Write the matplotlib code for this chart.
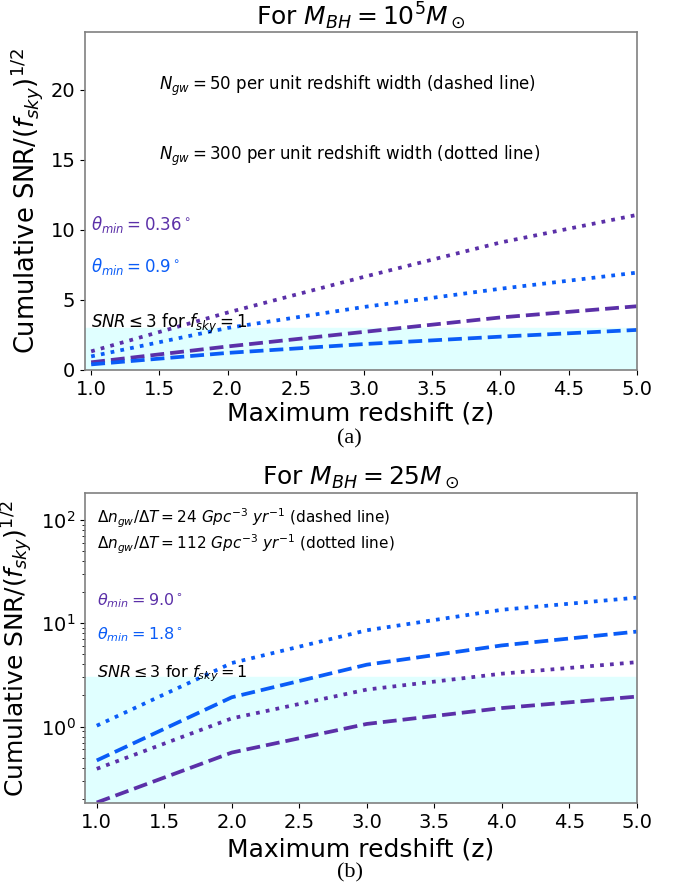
import matplotlib
matplotlib.use("Agg")
import matplotlib.pyplot as plt

# redshift grid
z = [1, 2, 3, 4, 5]

# panel (a): M_BH = 1e5 Msun
a_purple_dashed = [0.55, 1.68, 2.72, 3.75, 4.55]
a_purple_dotted = [1.33, 4.1, 6.65, 9.1, 11.07]
a_blue_dashed = [0.4, 1.22, 1.85, 2.38, 2.86]
a_blue_dotted = [0.97, 3.0, 4.5, 5.8, 6.95]

# panel (b): M_BH = 25 Msun
b_purple_dashed = [0.184, 0.56, 1.06, 1.51, 1.95]
b_purple_dotted = [0.39, 1.2, 2.28, 3.25, 4.2]
b_blue_dashed = [0.47, 1.92, 3.97, 6.1, 8.3]
b_blue_dotted = [1.02, 4.12, 8.55, 13.5, 17.7]

snr_limit = 3

purple = '#5b30a8'
blue = '#0a5cf7'
cyan = '#e0ffff'
ylab = r'Cumulative SNR/$(f_{sky})^{1/2}$'

fig = plt.figure(figsize=(6.78, 8.86), dpi=100)

# ---- panel (a) ----
ax1 = fig.add_axes([0.1254, 0.5824, 0.8137, 0.3818])
ax1.axhspan(0, snr_limit, color=cyan, zorder=0)
ax1.plot(z, a_purple_dotted, ':', color=purple, lw=2.7)
ax1.plot(z, a_blue_dotted, ':', color=blue, lw=2.7)
ax1.plot(z, a_purple_dashed, '--', color=purple, lw=2.7)
ax1.plot(z, a_blue_dashed, '--', color=blue, lw=2.7)
ax1.set_xlim(0.955, 5.0)
ax1.set_ylim(0, 24.15)
ax1.set_yticks([0, 5, 10, 15, 20])
ax1.set_title(r'For $M_{BH} = 10^5 M_\odot$', fontsize=18, pad=4)
ax1.set_xlabel('Maximum redshift (z)', fontsize=18, labelpad=2)
ax1.set_ylabel(ylab, fontsize=18.5)
ax1.text(1.5, 20, r'$N_{gw} = 50$ per unit redshift width (dashed line)', fontsize=12)
ax1.text(1.5, 15, r'$N_{gw} = 300$ per unit redshift width (dotted line)', fontsize=12)
ax1.text(1.0, 10, r'$\theta_{min} = 0.36^\circ$', color=purple, fontsize=12)
ax1.text(1.0, 7, r'$\theta_{min} = 0.9^\circ$', color=blue, fontsize=12)
ax1.text(1.0, 3, r'$SNR \leq 3$ for $f_{sky} = 1$', fontsize=12)

# ---- panel (b) ----
ax2 = fig.add_axes([0.1254, 0.0934, 0.8137, 0.3498])
ax2.set_yscale('log')
ax2.axhspan(0.01, snr_limit, color=cyan, zorder=0)
ax2.plot(z, b_blue_dotted, ':', color=blue, lw=2.7)
ax2.plot(z, b_blue_dashed, '--', color=blue, lw=2.7)
ax2.plot(z, b_purple_dotted, ':', color=purple, lw=2.7)
ax2.plot(z, b_purple_dashed, '--', color=purple, lw=2.7)
ax2.set_xlim(0.913, 5.0)
ax2.set_ylim(0.181, 181)
ax2.set_title(r'For $M_{BH} = 25 M_\odot$', fontsize=18, pad=6)
ax2.set_xlabel('Maximum redshift (z)', fontsize=18)
ax2.set_ylabel(ylab, fontsize=18)
ax2.text(1.0, 92, r'$\Delta n_{gw}/\Delta T = 24\ Gpc^{-3}\ yr^{-1}$ (dashed line)', fontsize=11)
ax2.text(1.0, 52, r'$\Delta n_{gw}/\Delta T = 112\ Gpc^{-3}\ yr^{-1}$ (dotted line)', fontsize=11)
ax2.text(1.0, 15, r'$\theta_{min} = 9.0^\circ$', color=purple, fontsize=11.5)
ax2.text(1.0, 7, r'$\theta_{min} = 1.8^\circ$', color=blue, fontsize=11.5)
ax2.text(1.0, 3, r'$SNR \leq 3$ for $f_{sky} = 1$', fontsize=11.5)

for ax in (ax1, ax2):
    ax.tick_params(labelsize=14)
    for s in ax.spines.values():
        s.set_color('#808080')
        s.set_linewidth(1.2)

fig.text(0.516, 0.505, '(a)', fontsize=16, family='Liberation Serif', ha='center', va='center')
fig.text(0.516, 0.015, '(b)', fontsize=16, family='Liberation Serif', ha='center', va='center')

fig.savefig('out.png', dpi=100)
